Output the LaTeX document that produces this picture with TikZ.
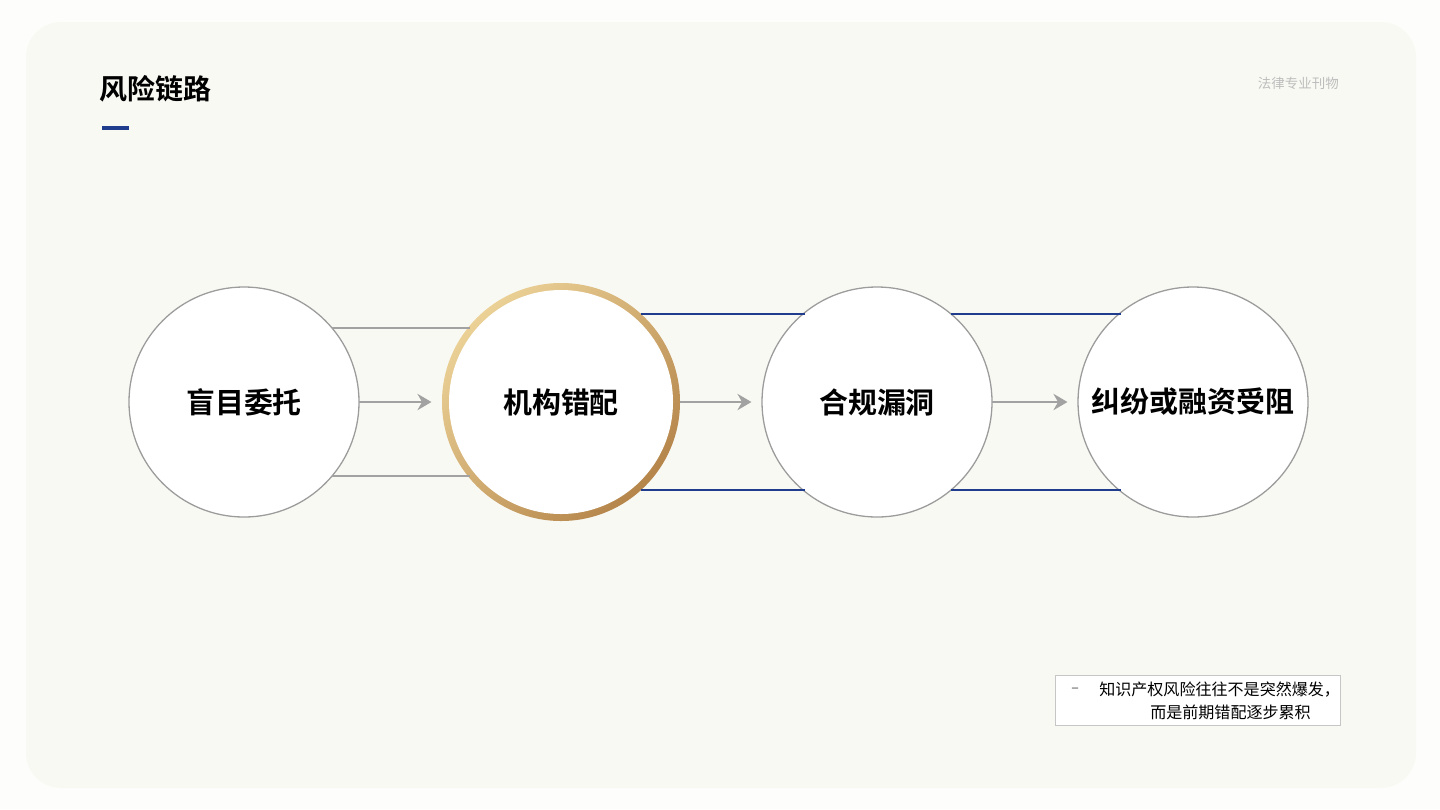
\documentclass[tikz,border=0pt]{standalone}
\usepackage{fontspec}
\setmainfont{Noto Sans CJK SC}
\newfontfamily\cjkbold{Noto Sans CJK SC Bold}
\usetikzlibrary{arrows.meta}
\definecolor{bgouter}{HTML}{FDFDFB}
\definecolor{bginner}{HTML}{F9F9F4}
\definecolor{ringgray}{HTML}{9C9C9C}
\definecolor{linkgray}{HTML}{A2A2A2}
\definecolor{navy}{HTML}{1F3D8C}
\definecolor{goldlight}{HTML}{EBD196}
\definecolor{golddark}{HTML}{B5854A}
\definecolor{notegray}{HTML}{C6C6C6}
\definecolor{wmgray}{HTML}{BDBDBD}
\tikzset{
  stage/.style={circle, draw=ringgray, line width=1.1pt, fill=white, inner sep=0pt, outer sep=0pt, minimum size=6.9cm, font=\cjkbold\fontsize{24.7pt}{28pt}\selectfont, text=black},
  goldring/.style={circle, inner sep=0pt, outer sep=0pt, minimum size=7.14cm, top color=goldlight, bottom color=golddark, shading angle=45},
  goldinner/.style={circle, fill=white, inner sep=0pt, minimum size=6.72cm, font=\cjkbold\fontsize{24.7pt}{28pt}\selectfont, text=black},
  flow/.style={draw=linkgray, line width=1.6pt, -{Stealth[length=12pt, width=14pt, inset=4pt]}, shorten >=9pt},
  grayrail/.style={draw=linkgray, line width=1.3pt},
  bluerail/.style={draw=navy, line width=1.7pt},
}
\begin{document}
\begin{tikzpicture}[x=0.03cm, y=-0.03cm]
\useasboundingbox (0,0) rectangle (1440,809);
\fill[bgouter] (0,0) rectangle (1440,809);
\fill[bginner, rounded corners=30pt] (26,22) rectangle (1416,788);

% title
\node[anchor=west, font=\cjkbold\fontsize{23.9pt}{28pt}\selectfont, inner sep=0pt] (title) at (99,89) {风险链路};
\coordinate (ulA) at (102,128);
\coordinate (ulB) at (129,128);
\draw[navy, line width=2.6pt] (ulA) -- (ulB);

% watermark
\node[anchor=east, font=\fontsize{11.5pt}{14pt}\selectfont, text=wmgray, inner sep=0pt] (wm) at (1339,83) {法律专业刊物};

% stages
\node[goldring] (c2) at (561,402) {};
\node[goldinner] (c2t) at (561,402) {机构错配};
\node[stage] (c1) at (244,402) {盲目委托};
\node[stage] (c3) at (877,402) {合规漏洞};
\node[stage] (c4) at (1193,402) {纠纷或融资受阻};

% rails
\draw[grayrail] (c1.40.7) -- (c2.140.9 |- c1.40.7);
\draw[grayrail] (c1.-40.7) -- (c2.-140.9 |- c1.-40.7);
\draw[bluerail] (c2.48.6) -- (c3.129.5 |- c2.48.6);
\draw[bluerail] (c2.-48.4) -- (c3.-129.3 |- c2.-48.4);
\draw[bluerail] (c3.50.7) -- (c4.129.3 |- c3.50.7);
\draw[bluerail] (c3.-50.7) -- (c4.-129.3 |- c3.-50.7);

% arrows
\draw[flow] (c1.east) -- (c2.west);
\draw[flow] (c2.east) -- (c3.west);
\draw[flow] (c3.east) -- (c4.west);

% note box
\node[draw=notegray, line width=0.8pt, fill=white, minimum width=285*0.03cm, minimum height=50*0.03cm, inner sep=0pt] (note) at (1197.5,700) {};
\node[anchor=west, font=\fontsize{12pt}{14pt}\selectfont, text=black!70, inner sep=0pt] (dash) at (1071,690) {–};
\node[anchor=west, font=\fontsize{13.7pt}{16pt}\selectfont, inner sep=0pt] (n1) at (1099,690) {知识产权风险往往不是突然爆发，};
\node[anchor=west, font=\fontsize{13.7pt}{16pt}\selectfont, inner sep=0pt] (n2) at (1150,712) {而是前期错配逐步累积};
\end{tikzpicture}
\end{document}
